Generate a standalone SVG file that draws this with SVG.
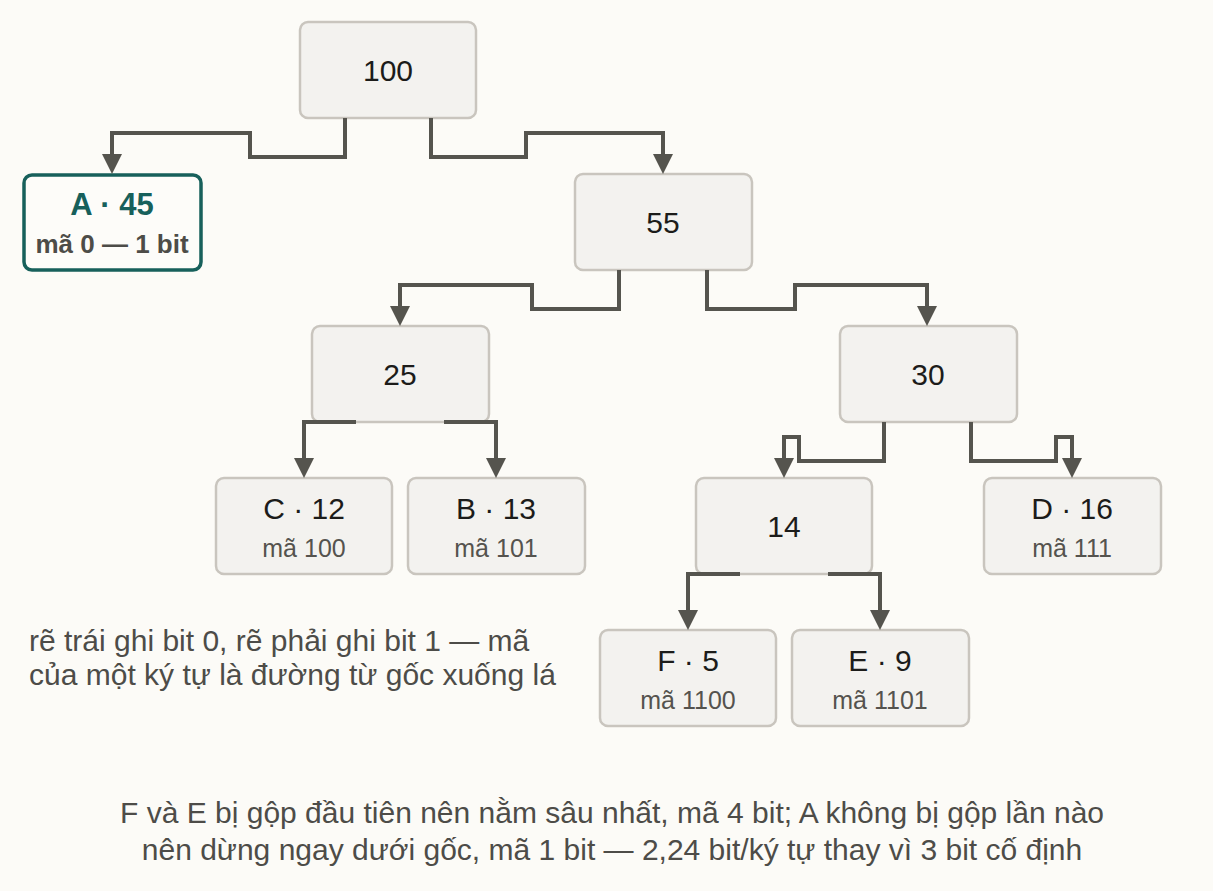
<svg xmlns="http://www.w3.org/2000/svg" width="1213" height="891" viewBox="0 0 1213 891">
<defs>
<style>
.box{fill:#f3f2ef;stroke:#c9c5be;stroke-width:2.5}
.lbl{font-family:"Liberation Sans",Arial,sans-serif;font-size:30px;fill:#1c1c1a;text-anchor:middle}
.sub{font-family:"Liberation Sans",Arial,sans-serif;font-size:25px;fill:#55534e;text-anchor:middle}
.edge{fill:none;stroke:#55544e;stroke-width:4;marker-end:url(#arr)}
.note{font-family:"Liberation Sans",Arial,sans-serif;font-size:30px;fill:#4d4c48}
</style>
<marker id="arr" viewBox="0 0 20 20" refX="0" refY="10" markerWidth="20" markerHeight="20" markerUnits="userSpaceOnUse" orient="auto">
<path d="M0,0 L20,10 L0,20 z" fill="#55544e"/>
</marker>
</defs>
<rect width="1213" height="891" fill="#fcfbf7"/>
<g id="n100"><rect class="box" x="300" y="22" width="176" height="96" rx="8"/><text class="lbl" x="388" y="81">100</text></g>
<g id="nA"><rect x="24" y="175" width="177" height="95" rx="8" fill="#fdfcf9" stroke="#17605b" stroke-width="3.5"/><text x="112" y="215" font-family="Liberation Sans,Arial,sans-serif" font-size="31" font-weight="bold" fill="#17605b" text-anchor="middle">A · 45</text><text x="112" y="253" font-family="Liberation Sans,Arial,sans-serif" font-size="26" font-weight="bold" fill="#4d4c48" text-anchor="middle">mã 0 — 1 bit</text></g>
<g id="n55"><rect class="box" x="575" y="174" width="177" height="96" rx="8"/><text class="lbl" x="663" y="233">55</text></g>
<g id="n25"><rect class="box" x="312" y="326" width="177" height="96" rx="8"/><text class="lbl" x="400" y="385">25</text></g>
<g id="n30"><rect class="box" x="840" y="326" width="177" height="96" rx="8"/><text class="lbl" x="928" y="385">30</text></g>
<g id="nC"><rect class="box" x="216" y="478" width="176" height="96" rx="8"/><text class="lbl" x="304" y="519">C · 12</text><text class="sub" x="304" y="557">mã 100</text></g>
<g id="nB"><rect class="box" x="408" y="478" width="177" height="96" rx="8"/><text class="lbl" x="496" y="519">B · 13</text><text class="sub" x="496" y="557">mã 101</text></g>
<g id="n14"><rect class="box" x="696" y="478" width="176" height="96" rx="8"/><text class="lbl" x="784" y="537">14</text></g>
<g id="nD"><rect class="box" x="984" y="478" width="177" height="96" rx="8"/><text class="lbl" x="1072" y="519">D · 16</text><text class="sub" x="1072" y="557">mã 111</text></g>
<g id="nF"><rect class="box" x="600" y="630" width="176" height="96" rx="8"/><text class="lbl" x="688" y="671">F · 5</text><text class="sub" x="688" y="709">mã 1100</text></g>
<g id="nE"><rect class="box" x="792" y="630" width="177" height="96" rx="8"/><text class="lbl" x="880" y="671">E · 9</text><text class="sub" x="880" y="709">mã 1101</text></g>
<g id="connectors">
<path class="edge" d="M345 118 V157 H250 V133 H112 V154"/>
<path class="edge" d="M431 118 V157 H526 V133 H663 V154"/>
<path class="edge" d="M619 270 V309 H532 V285 H400 V306"/>
<path class="edge" d="M707 270 V309 H795 V285 H927 V306"/>
<path class="edge" d="M356 422 H304 V458"/>
<path class="edge" d="M444 422 H496 V458"/>
<path class="edge" d="M884 422 V461 H799 V437 H784 V458"/>
<path class="edge" d="M971 422 V461 H1056 V437 H1072 V458"/>
<path class="edge" d="M740 574 H688 V610"/>
<path class="edge" d="M828 574 H880 V610"/>
</g>
<g id="notes">
<text class="note" x="29" y="651">rẽ trái ghi bit 0, rẽ phải ghi bit 1 — mã</text>
<text class="note" x="29" y="685">của một ký tự là đường từ gốc xuống lá</text>
<text class="note" x="612" y="823" text-anchor="middle">F và E bị gộp đầu tiên nên nằm sâu nhất, mã 4 bit; A không bị gộp lần nào</text>
<text class="note" x="612" y="860" text-anchor="middle">nên dừng ngay dưới gốc, mã 1 bit — 2,24 bit/ký tự thay vì 3 bit cố định</text>
</g>
</svg>
